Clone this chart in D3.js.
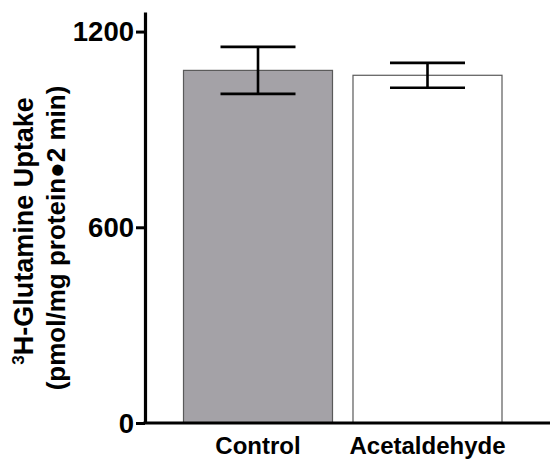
<!DOCTYPE html>
<html>
<head>
<meta charset="utf-8">
<script src="https://cdn.jsdelivr.net/npm/d3@7"></script>
<style>
  html, body { margin: 0; padding: 0; background: #fff; }
  text { font-family: "Liberation Sans", Arial, sans-serif; font-weight: bold; fill: #000; }
</style>
</head>
<body>
<svg id="chart" width="550" height="468"></svg>
<script>
const categories = ["Control", "Acetaldehyde"];
const means = [1081, 1066];
const errors = [72, 38];
const fills = ["#a4a2a7", "#ffffff"];
const yTicks = [0, 600, 1200];

const svg = d3.select("#chart");

const y = d3.scaleLinear().domain([0, 1260]).range([423, 12]);
const x = d3.scaleBand().domain(categories).range([183, 502.5]).paddingInner(0.115).paddingOuter(0);

const data = categories.map((c, i) => ({ c, v: means[i], e: errors[i], f: fills[i] }));

// bars
svg.append("g").selectAll("rect").data(data).join("rect")
  .attr("x", d => x(d.c) + 0.5)
  .attr("y", d => y(d.v))
  .attr("width", x.bandwidth() - 1)
  .attr("height", d => y(0) - y(d.v))
  .attr("fill", d => d.f)
  .attr("stroke", "#5a5a5a")
  .attr("stroke-width", 1.2);

// error bars
const eg = svg.append("g").attr("stroke", "#000").attr("stroke-width", 2.6);
data.forEach(d => {
  const cx = x(d.c) + x.bandwidth() / 2;
  eg.append("line").attr("x1", cx).attr("x2", cx).attr("y1", y(d.v + d.e)).attr("y2", y(d.v - d.e));
  eg.append("line").attr("x1", cx - 37.5).attr("x2", cx + 37.5).attr("y1", y(d.v + d.e)).attr("y2", y(d.v + d.e));
  eg.append("line").attr("x1", cx - 37.5).attr("x2", cx + 37.5).attr("y1", y(d.v - d.e)).attr("y2", y(d.v - d.e));
});

// y axis
const yAxis = d3.axisLeft(y).tickValues(yTicks).tickFormat(d3.format("d")).tickSize(9).tickSizeOuter(0).tickPadding(2);
const ga = svg.append("g").attr("transform", "translate(145,0)").call(yAxis);
ga.select(".domain").attr("stroke", "#000").attr("stroke-width", 3.2);
ga.selectAll(".tick line").attr("stroke", "#000").attr("stroke-width", 3);
ga.selectAll(".tick text").style("font-size", "27.5px").style("font-family", "Liberation Sans, Arial, sans-serif").style("font-weight", "bold").attr("fill", "#000").attr("dy", "0.34em");

// x axis
const xAxis = d3.axisBottom(x).tickSize(0).tickPadding(14);
const gx = svg.append("g").attr("transform", "translate(0,423)").call(xAxis);
gx.select(".domain").remove();
gx.append("line").attr("x1", 143.4).attr("x2", 550).attr("y1", 0).attr("y2", 0)
  .attr("stroke", "#000").attr("stroke-width", 3.2);
gx.selectAll(".tick text").style("font-size", "24px").style("font-family", "Liberation Sans, Arial, sans-serif").style("font-weight", "bold").attr("fill", "#000");

// y title
const t1 = svg.append("text").attr("transform", "translate(33,231) rotate(-90)")
  .attr("text-anchor", "middle").style("font-size", "27px");
t1.append("tspan").text("3").style("font-size", "17px").attr("dy", "-9");
t1.append("tspan").text("H-Glutamine Uptake").attr("dy", "9");

svg.append("text").attr("transform", "translate(65,238) rotate(-90)")
  .attr("text-anchor", "middle").style("font-size", "26px")
  .text("(pmol/mg protein\u25CF2 min)");
</script>
</body>
</html>
